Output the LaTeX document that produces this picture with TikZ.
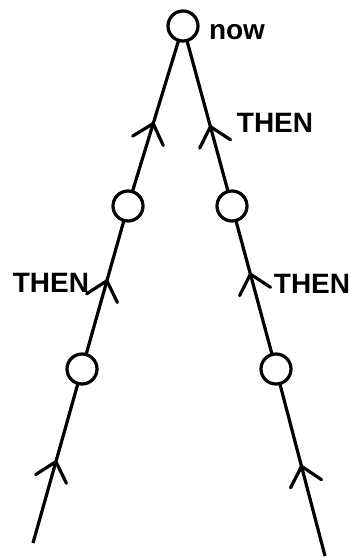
\documentclass[tikz,border=0pt]{standalone}
\usepackage{fontspec}
\setmainfont{Liberation Sans}
\usetikzlibrary{decorations.markings}
\begin{document}
\begin{tikzpicture}[x=1pt,y=-1pt,
  state/.style={circle,draw,line width=3.2pt,minimum size=30pt,inner sep=0pt,outer sep=0pt},
  edge/.style={line width=3.2pt},
  lbl/.style={font=\fontsize{28}{30}\selectfont\bfseries,inner sep=0pt},
  upmark/.style={postaction={decorate},decoration={markings,
     mark=at position #1 with {\draw[line width=3.2pt,line cap=round,line join=miter] (-18pt,16pt) -- (0pt,0pt) -- (-18pt,-16pt);}}}]
\useasboundingbox (0,0) rectangle (349,557);
\node[state] (top) at (183,26) {};
\node[state] (ml) at (128,206) {};
\node[state] (mr) at (232,206) {};
\node[state] (ll) at (82,369) {};
\node[state] (lr) at (276,369) {};
\coordinate (bl) at (33,543);
\coordinate (br) at (325,556);
\draw[edge,upmark=0.45] (ml) -- (top);
\draw[edge,upmark=0.43] (mr) -- (top);
\draw[edge,upmark=0.55] (ll) -- (ml);
\draw[edge,upmark=0.6] (lr) -- (mr);
\draw[edge,upmark=0.51] (bl) -- (ll);
\draw[edge,upmark=0.52] (br) -- (lr);
\node[lbl] (now) at (237,32) {now};
\node[lbl] (t1) at (275,123) {THEN};
\node[lbl] (t2) at (51,283) {THEN};
\node[lbl] (t3) at (312,284) {THEN};
\end{tikzpicture}
\end{document}
